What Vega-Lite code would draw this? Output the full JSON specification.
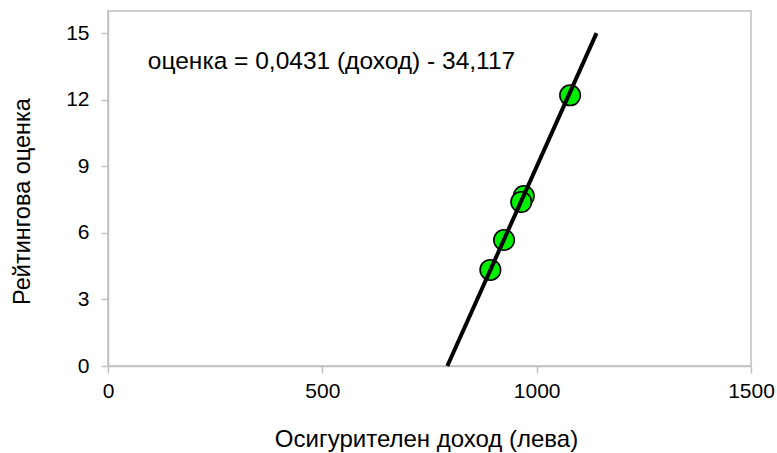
{
  "$schema": "https://vega.github.io/schema/vega-lite/v6.json",
  "width": 643,
  "height": 355,
  "autosize": "none",
  "padding": {"left": 108, "top": 11, "right": 26, "bottom": 87},
  "background": "white",
  "config": {
    "font": "Liberation Sans",
    "view": {"stroke": "#c0c0c0", "strokeWidth": 1.5},
    "axis": {
      "grid": false,
      "labelFlush": false,
      "labelOverlap": false,
      "domainColor": "#c0c0c0",
      "domainWidth": 1.5,
      "tickColor": "#c0c0c0",
      "tickWidth": 1.5,
      "tickSize": 7,
      "labelFont": "Liberation Sans",
      "labelFontSize": 21,
      "labelColor": "#000000",
      "titleFont": "Liberation Sans",
      "titleFontSize": 24,
      "titleFontWeight": "normal",
      "titleColor": "#000000"
    }
  },
  "datasets": {
    "points": [
      {"income": 892, "score": 4.33},
      {"income": 924, "score": 5.68},
      {"income": 970, "score": 7.66},
      {"income": 964, "score": 7.39},
      {"income": 1078, "score": 12.2}
    ],
    "fit": [
      {"income": 791.6, "score": 0},
      {"income": 1139.6, "score": 15}
    ],
    "label": [
      {"income": 93, "score": 13.7, "text": "оценка = 0,0431 (доход) - 34,117"}
    ]
  },
  "layer": [
    {
      "data": {"name": "points"},
      "mark": {"type": "point", "shape": "circle", "filled": true, "fill": "#00ee00", "stroke": "#000000", "strokeWidth": 1.6, "size": 420, "opacity": 1},
      "encoding": {
        "x": {
          "field": "income", "type": "quantitative",
          "scale": {"domain": [0, 1500], "nice": false},
          "axis": {"values": [0, 500, 1000, 1500], "format": "d", "title": "Осигурителен доход (лева)", "labelPadding": 7, "titleX": 318, "titleY": 73, "titleAlign": "center", "titleBaseline": "middle"}
        },
        "y": {
          "field": "score", "type": "quantitative",
          "scale": {"domain": [0, 16], "nice": false},
          "axis": {"values": [0, 3, 6, 9, 12, 15], "format": "d", "title": "Рейтингова оценка", "titleFontSize": 23.5, "labelPadding": 12, "titleX": -86, "titleY": 190, "titleAngle": -90, "titleAlign": "center", "titleBaseline": "middle"}
        }
      }
    },
    {
      "data": {"name": "fit"},
      "mark": {"type": "line", "color": "#000000", "strokeWidth": 4},
      "encoding": {
        "x": {"field": "income", "type": "quantitative"},
        "y": {"field": "score", "type": "quantitative"}
      }
    },
    {
      "data": {"name": "label"},
      "mark": {"type": "text", "align": "left", "baseline": "middle", "fontSize": 24.5, "font": "Liberation Sans", "color": "#000000"},
      "encoding": {
        "x": {"field": "income", "type": "quantitative"},
        "y": {"field": "score", "type": "quantitative"},
        "text": {"field": "text"}
      }
    }
  ]
}
